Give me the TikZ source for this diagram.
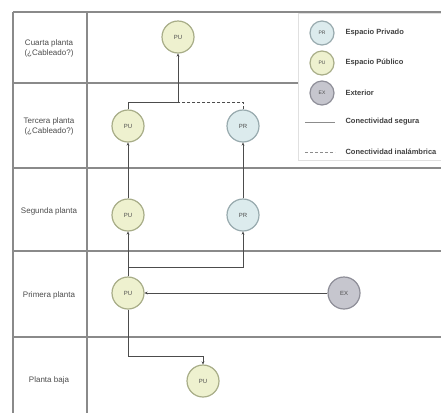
\documentclass[tikz,border=0pt]{standalone}
\usepackage{fontspec}
\setmainfont{Liberation Sans}
\usetikzlibrary{arrows.meta}
\definecolor{pubfill}{HTML}{EEF1CF}
\definecolor{pubdraw}{HTML}{A8AD88}
\definecolor{privfill}{HTML}{DCEBED}
\definecolor{privdraw}{HTML}{98AAAE}
\definecolor{extfill}{HTML}{C6C6CE}
\definecolor{extdraw}{HTML}{8E8E98}
\definecolor{gridc}{HTML}{8A8A8A}
\tikzset{
  grid line/.style={draw=gridc, line width=1.1pt},
  nodebase/.style={circle, minimum size=32pt, inner sep=0pt, line width=1.2pt, font=\fontsize{6}{7}\selectfont, text=black!70},
  pub/.style={nodebase, fill=pubfill, draw=pubdraw},
  priv/.style={nodebase, fill=privfill, draw=privdraw},
  ext/.style={nodebase, fill=extfill, draw=extdraw},
  legnode/.style={minimum size=24pt, font=\fontsize{5}{6}\selectfont},
  rowlabel/.style={align=center, font=\fontsize{8}{10}\selectfont, text=black!70},
  legtext/.style={anchor=west, font=\bfseries\fontsize{7.5}{9}\selectfont, text=black!75},
  conn/.style={draw=black!70, line width=0.7pt, -{Stealth[length=3pt,width=3pt]}},
  plain/.style={draw=black!70, line width=0.7pt},
  dconn/.style={plain, dash pattern=on 3pt off 2pt},
}
\begin{document}
\begin{tikzpicture}[x=1pt,y=-1pt]
\useasboundingbox (0,0) rectangle (441,413);
\fill[white] (0,0) rectangle (441,413);
% frame
\draw[grid line] (13,12) -- (13,413);
\draw[grid line] (87,12) -- (87,413);
\foreach \y in {12,83,168,251,337} {\draw[grid line] (13,\y) -- (441,\y);}
% row labels
\node[rowlabel] (r4) at (49,48) {Cuarta planta\\(¿Cableado?)};
\node[rowlabel] (r3) at (49,126) {Tercera planta\\(¿Cableado?)};
\node[rowlabel] (r2) at (49,211) {Segunda planta};
\node[rowlabel] (r1) at (49,295) {Primera planta};
\node[rowlabel] (r0) at (49,380) {Planta baja};
% legend
\draw[draw=black!12, line width=0.6pt, fill=white] (298,13) rectangle (441,160);
\node[priv, legnode] (lpr) at (322,33) {PR};
\node[legtext] (tpr) at (342,33) {Espacio Privado};
\node[pub, legnode] (lpu) at (322,63) {PU};
\node[legtext] (tpu) at (342,63) {Espacio Público};
\node[ext, legnode] (lex) at (322,93) {EX};
\node[legtext] (tex) at (342,93) {Exterior};
\coordinate (ls1) at (305,122); \coordinate (ls2) at (335,122);
\draw[plain, draw=black!45] (ls1) -- (ls2);
\node[legtext] (tls) at (342,122) {Conectividad segura};
\coordinate (ld1) at (305,152); \coordinate (ld2) at (335,152);
\draw[dconn, draw=black!45] (ld1) -- (ld2);
\node[legtext] (tld) at (342,152) {Conectividad inalámbrica};
% nodes
\node[pub] (pu4) at (178,37) {PU};
\node[pub] (pu3) at (128,126) {PU};
\node[priv] (pr3) at (243,126) {PR};
\node[pub] (pu2) at (128,215) {PU};
\node[priv] (pr2) at (243,215) {PR};
\node[pub] (pu1) at (128,293) {PU};
\node[ext] (ex) at (344,293) {EX};
\node[pub] (pu0) at (203,381) {PU};
% connectors
\coordinate (j3) at (178,102);
\draw[plain] (pu3.north) |- (j3);
\draw[dconn] (pr3.north) |- (j3);
\draw[conn] (j3) -- (pu4.south);
\draw[conn] (pu2) -- (pu3);
\draw[conn] (pr2) -- (pr3);
\draw[conn] (pu1) -- (pu2);
\coordinate (j1) at (128,267);
\draw[conn] (j1) -| (pr2.south);
\draw[conn] (ex) -- (pu1);
\draw[conn] (pu1.south) |- (203,356) -- (pu0.north);
\end{tikzpicture}
\end{document}
